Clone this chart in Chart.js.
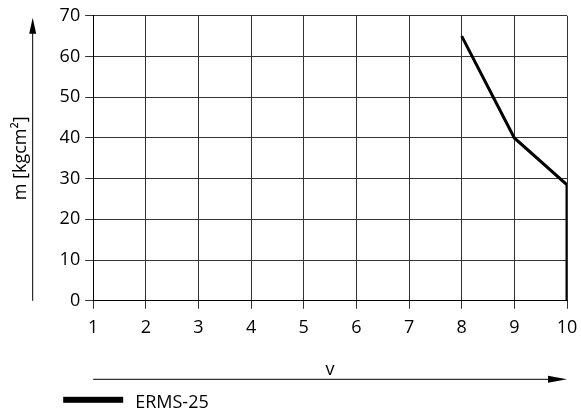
<!DOCTYPE html>
<html>
<head>
<meta charset="utf-8">
<script src="https://cdn.jsdelivr.net/npm/chart.js@4.4.1/dist/chart.umd.min.js"></script>
<style>
  html, body { margin: 0; padding: 0; background: #fff; }
  #wrap { width: 581px; height: 415px; }
</style>
</head>
<body>
<div id="wrap"><canvas id="c" width="581" height="415"></canvas></div>
<script>
// Curve of the ERMS-25 (v vs. moment of inertia)
const seriesName = 'ERMS-25';
const vValues = [8, 9, 10, 10];
const mValues = [65, 40, 28.5, 0];
const xTicks = [1, 2, 3, 4, 5, 6, 7, 8, 9, 10];
const yTicks = [0, 10, 20, 30, 40, 50, 60, 70];
const xTitle = 'v';
const yTitle = 'm [kgcm²]';

const FONT = "'Open Sans', 'Noto Sans', sans-serif";

// Axis arrows and the legend entry below the plot
const decorations = {
  id: 'decorations',
  afterDraw(chart) {
    const ctx = chart.ctx;
    const a = chart.chartArea;
    ctx.save();
    ctx.strokeStyle = '#000';
    ctx.fillStyle = '#000';
    ctx.lineWidth = 1;

    // vertical arrow beside the y axis
    const ax = a.left - 61;
    ctx.beginPath();
    ctx.moveTo(ax + 0.5, a.bottom);
    ctx.lineTo(ax + 0.5, a.top + 14);
    ctx.stroke();
    ctx.beginPath();
    ctx.moveTo(ax + 0.5, a.top + 2);
    ctx.lineTo(ax - 3, a.top + 18);
    ctx.lineTo(ax + 4, a.top + 18);
    ctx.closePath();
    ctx.fill();

    // horizontal arrow under the x axis title
    const ay = a.bottom + 78;
    ctx.beginPath();
    ctx.moveTo(a.left, ay + 0.5);
    ctx.lineTo(a.right - 16, ay + 0.5);
    ctx.stroke();
    ctx.beginPath();
    ctx.moveTo(a.right, ay + 0.5);
    ctx.lineTo(a.right - 19, ay - 3);
    ctx.lineTo(a.right - 19, ay + 4);
    ctx.closePath();
    ctx.fill();

    // legend entry
    const ds = chart.data.datasets[0];
    const ly = a.bottom + 99;
    ctx.fillStyle = ds.borderColor;
    ctx.fillRect(a.left - 30, ly - 3, 60, 6);
    ctx.fillStyle = '#000';
    ctx.font = '18px ' + FONT;
    ctx.textBaseline = 'middle';
    ctx.textAlign = 'left';
    ctx.fillText(ds.label, a.left + 42, ly + 3);
    ctx.restore();
  }
};

new Chart(document.getElementById('c'), {
  type: 'line',
  data: {
    datasets: [{
      label: seriesName,
      data: vValues.map((v, i) => ({ x: v, y: mValues[i] })),
      borderColor: '#000',
      borderWidth: 3,
      pointRadius: 0,
      tension: 0,
      fill: false
    }]
  },
  options: {
    responsive: false,
    animation: false,
    layout: { padding: { top: 15, right: 14, bottom: 34, left: 0 } },
    plugins: {
      legend: { display: false },
      tooltip: { enabled: false }
    },
    scales: {
      x: {
        type: 'linear',
        min: xTicks[0],
        max: xTicks[xTicks.length - 1],
        afterBuildTicks: s => { s.ticks = xTicks.map(v => ({ value: v })); },
        afterFit: s => { s.paddingRight = 0; },
        grid: { color: '#333', lineWidth: 1, tickLength: 8, drawTicks: true },
        border: { display: true, color: '#000', width: 1 },
        ticks: { color: '#000', font: { family: FONT, size: 18 }, padding: 8, maxRotation: 0 },
        title: {
          display: true, text: xTitle, color: '#000',
          font: { family: FONT, size: 18 }, padding: { top: 13, bottom: 0 }
        }
      },
      y: {
        type: 'linear',
        min: yTicks[0],
        max: yTicks[yTicks.length - 1],
        afterBuildTicks: s => { s.ticks = yTicks.map(v => ({ value: v })); },
        grid: { color: '#333', lineWidth: 1, tickLength: 8, drawTicks: true },
        border: { display: true, color: '#000', width: 1 },
        ticks: { color: '#000', font: { family: FONT, size: 18 }, padding: 5 },
        title: {
          display: true, text: yTitle, color: '#000',
          font: { family: FONT, size: 18 }, padding: { top: 10, bottom: 23 }
        }
      }
    }
  },
  plugins: [decorations]
});
</script>
</body>
</html>
